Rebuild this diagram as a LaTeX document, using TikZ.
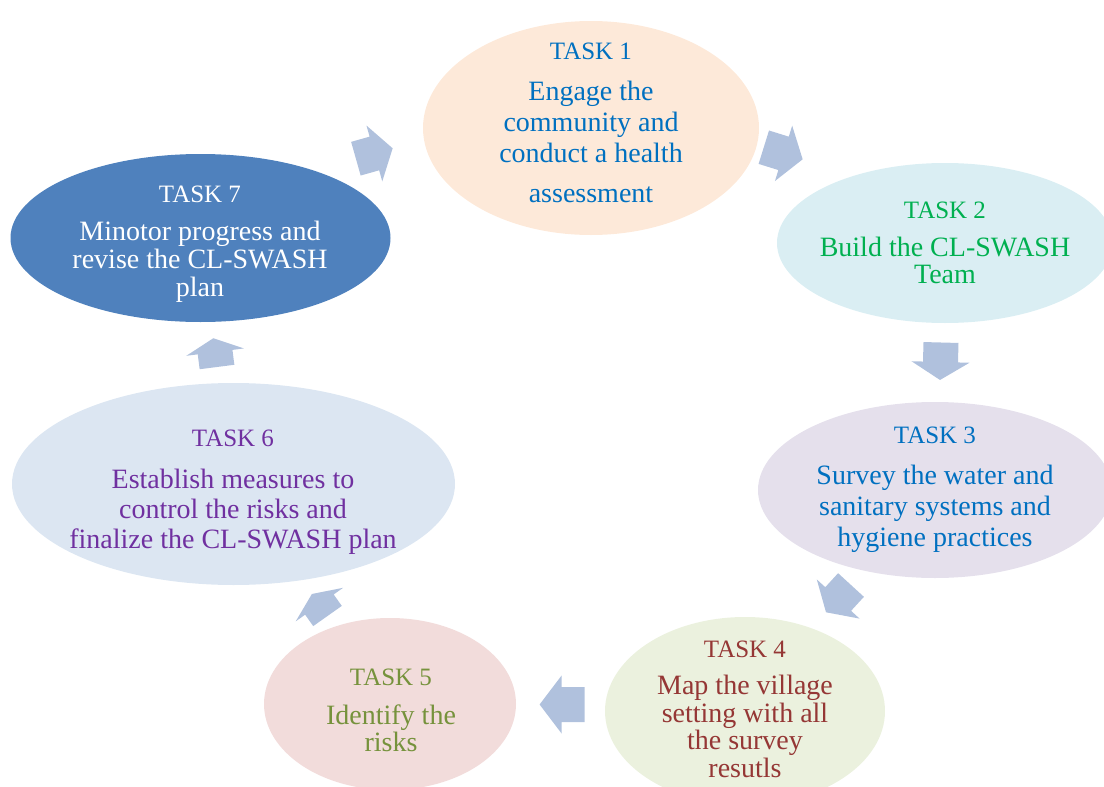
\documentclass[tikz,border=0pt]{standalone}
\usepackage{fontspec}
\setmainfont{Liberation Serif}
\usetikzlibrary{shapes.geometric}

% ellipse fills
\definecolor{fillone}{HTML}{FDE9D9}
\definecolor{filltwo}{HTML}{DAEEF3}
\definecolor{fillthree}{HTML}{E5E0EC}
\definecolor{fillfour}{HTML}{EBF1DE}
\definecolor{fillfive}{HTML}{F2DCDB}
\definecolor{fillsix}{HTML}{DCE6F2}
\definecolor{fillseven}{HTML}{4F81BD}
% text colours
\definecolor{txtblue}{HTML}{0070C0}
\definecolor{txtgreen}{HTML}{00B050}
\definecolor{txtred}{HTML}{953735}
\definecolor{txtolive}{HTML}{76923C}
\definecolor{txtpurple}{HTML}{7030A0}
% block arrows
\definecolor{arrowblue}{HTML}{B0C1DD}

\tikzset{
  taskshape/.style={ellipse, inner sep=0pt, draw=none},
  tasktitle/.style={anchor=base, inner sep=0pt, font=\fontsize{25pt}{30pt}\selectfont},
  taskbody/.style={anchor=north, inner sep=0pt, align=center, font=\fontsize{28pt}{#1}\selectfont},
}

% block arrow: #1 tail centre, #2 direction, #3 total length, #4 head length
\newcommand\cyclearrow[4]{%
  \fill[arrowblue, shift={#1}, rotate=#2]
    (0pt,-17.5pt) -- ({(#3-#4)*1pt},-17.5pt) -- ({(#3-#4)*1pt},-29pt)
    -- ({#3*1pt},0pt) -- ({(#3-#4)*1pt},29pt) -- ({(#3-#4)*1pt},17.5pt)
    -- (0pt,17.5pt) -- cycle;}

\begin{document}
\begin{tikzpicture}[x=1pt, y=-1pt]
  \useasboundingbox (0,0) rectangle (1104,787);
  \clip (0,0) rectangle (1104,787);

  % the seven task ellipses
  \node[taskshape, fill=fillone,   minimum width=336pt, minimum height=214pt] (e1) at (591,128) {};
  \node[taskshape, fill=filltwo,   minimum width=336pt, minimum height=160pt] (e2) at (945,243) {};
  \node[taskshape, fill=fillthree, minimum width=354pt, minimum height=176pt] (e3) at (935,490) {};
  \node[taskshape, fill=fillfour,  minimum width=280pt, minimum height=188pt] (e4) at (745,711) {};
  \node[taskshape, fill=fillfive,  minimum width=252pt, minimum height=172pt] (e5) at (390,704) {};
  \node[taskshape, fill=fillsix,   minimum width=443pt, minimum height=202pt] (e6) at (233.5,484) {};
  \node[taskshape, fill=fillseven, minimum width=380pt, minimum height=168pt] (e7) at (200.5,238) {};

  % arrows of the cycle
  \cyclearrow{(355.9,158.7)}{15.8}{38.2}{19}
  \cyclearrow{(763.8,147.2)}{-17.3}{40.7}{20}
  \cyclearrow{(941,342.5)}{-91.5}{37.5}{18}
  \cyclearrow{(851,585)}{-132.5}{37}{18}
  \cyclearrow{(584.6,704.5)}{180}{45}{22}
  \cyclearrow{(327.5,616)}{125.3}{27}{13}
  \cyclearrow{(217,367)}{97.3}{29}{14}

  % titles
  \node[tasktitle, text=txtblue]   (h1) at (591,59.3)  {TASK 1};
  \node[tasktitle, text=txtgreen]  (h2) at (945,218.3) {TASK 2};
  \node[tasktitle, text=txtblue]   (h3) at (935,443)   {TASK 3};
  \node[tasktitle, text=txtred]    (h4) at (745,657.3) {TASK 4};
  \node[tasktitle, text=txtolive]  (h5) at (391,685)   {TASK 5};
  \node[tasktitle, text=txtpurple] (h6) at (233,446.7) {TASK 6};
  \node[tasktitle, text=white]     (h7) at (200,202.3) {TASK 7};

  % descriptions
  \node[taskbody=31pt, text=txtblue] (b1) at (591,80.9)
    {Engage the\\community and\\conduct a health\\[9pt]assessment};
  \node[taskbody=27.6pt, text=txtgreen] (b2) at (945,236.6)
    {Build the CL-SWASH\\Team};
  \node[taskbody=31pt, text=txtblue] (b3) at (935,464.9)
    {Survey the water and\\sanitary systems and\\hygiene practices};
  \node[taskbody=27.6pt, text=txtred] (b4) at (745,674.9)
    {Map the village\\setting with all\\the survey\\resutls};
  \node[taskbody=27pt, text=txtolive] (b5) at (391,704.2)
    {Identify the\\risks};
  \node[taskbody=30pt, text=txtpurple] (b6) at (233,469.2)
    {Establish measures to\\control the risks and\\finalize the CL-SWASH plan};
  \node[taskbody=28pt, text=white] (b7) at (200,220.9)
    {Minotor progress and\\revise the CL-SWASH\\plan};
\end{tikzpicture}
\end{document}
